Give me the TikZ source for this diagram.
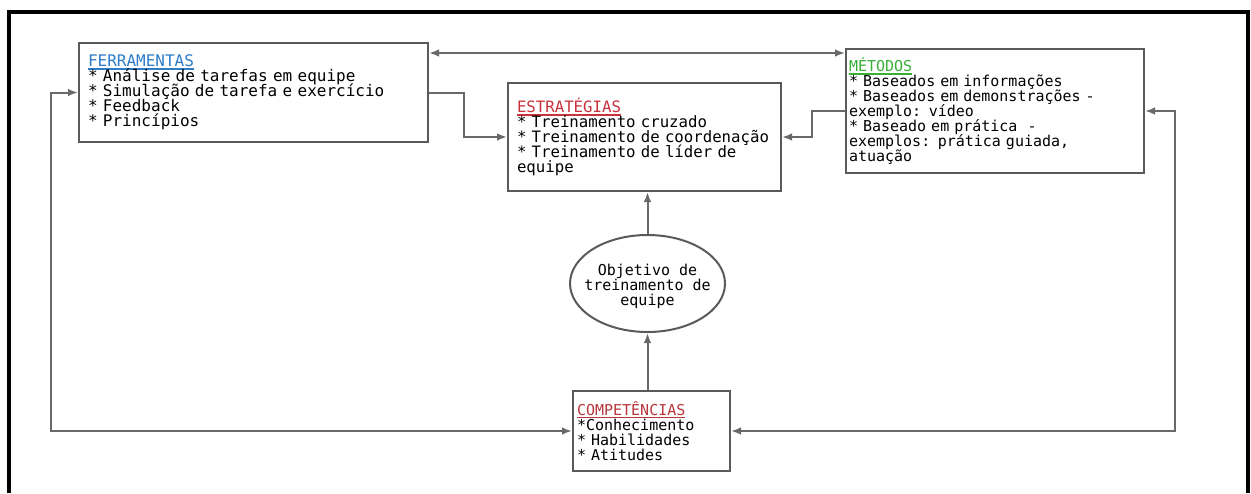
\documentclass[tikz,border=0pt]{standalone}
\usepackage{fontspec}
\setmonofont{DejaVu Sans Mono}
\usepackage{xcolor}
\usetikzlibrary{arrows.meta,positioning,shapes.geometric}
\definecolor{ferrblue}{RGB}{45,125,200}
\definecolor{estrred}{RGB}{200,50,60}
\definecolor{methgreen}{RGB}{55,175,55}
\definecolor{compred}{RGB}{185,55,60}
\definecolor{boxgray}{RGB}{90,90,90}
\definecolor{linegray}{RGB}{105,105,105}
\newcommand{\boxtitle}[2]{\textcolor{#1}{\setbox0\hbox{#2}\rlap{\rule[-1.5pt]{\wd0}{0.7pt}}\box0}}
\newcommand{\boxfont}[1]{\ttfamily\fontsize{#1}{7.5pt}\selectfont
    \lineskiplimit=-20pt\lineskip=0pt}

\begin{document}
\begin{tikzpicture}[
    x=0.5pt, y=-0.5pt,
    block/.style={draw=boxgray, line width=1pt, fill=white, rectangle, anchor=north west, align=left, inner ysep=2pt, font=\boxfont{7.5pt}},
    goal/.style={draw=boxgray, line width=1pt, ellipse, minimum width=77.5pt, minimum height=48.5pt, inner sep=0pt},
    arrow/.style={-{Latex[length=5pt,width=3.8pt]}, draw=linegray, line width=1pt},
    darrow/.style={{Latex[length=5pt,width=3.8pt]}-{Latex[length=5pt,width=3.8pt]}, draw=linegray, line width=1pt}
]
\useasboundingbox (0,0) rectangle (1251,493);

% Frame
\draw[line width=2pt, black] (9,493) -- (9,12) -- (1248,12) -- (1248,493);

% Blocks
\node[block, font=\boxfont{8pt}, text width=165.5pt, inner xsep=4.5pt, minimum height=49.5pt] (ferr) at (78,42)
    {\boxtitle{ferrblue}{FERRAMENTAS}\\
     {*} Análise de tarefas em equipe\\
     {*} Simulação de tarefa e exercício\\
     {*} Feedback\\
     {*} Princípios};
\node[block, font=\boxfont{7.85pt}, text width=127.5pt, inner xsep=4.5pt, minimum height=54pt] (estr) at (507,82)
    {\boxtitle{estrred}{ESTRATÉGIAS}\\
     {*} Treinamento cruzado\\
     {*} Treinamento de coordenação\\
     {*} Treinamento de líder de\\
     equipe};
\node[block, text width=146pt, inner xsep=1.5pt, minimum height=62pt] (meth) at (845,48)
    {\boxtitle{methgreen}{MÉTODOS}\\
     {*} Baseados em informações\\
     {*} Baseados em demonstrações -\\
     exemplo: vídeo\\
     {*} Baseado em prática\ \ -\\
     exemplos: prática guiada,\\
     atuação};
\node[block, text width=74.5pt, inner xsep=2pt, minimum height=40pt] (comp) at (572,390)
    {\boxtitle{compred}{COMPETÊNCIAS}\\
     {*}Conhecimento\\
     {*} Habilidades\\
     {*} Atitudes};
\node[goal, label={[align=center, font=\boxfont{7.5pt}, yshift=-1.5pt]center:Objetivo de\\treinamento de\\equipe}] (goal) at (647.5,283.5) {};

% Connectors
\draw[darrow] ([yshift=-5.5pt]ferr.north east) coordinate (toplink) -- (toplink -| meth.west);
\draw[arrow] (ferr.east) -- ++(35,0) |- (estr.west);
\draw[arrow] (meth.west) -- ++(-33,0) |- (estr.east);
\draw[arrow] (goal.north) -- (goal.north |- estr.south);
\draw[arrow] (goal.south |- comp.north) -- (goal.south);
\draw[darrow] (comp.west) -- ++(-521,0) |- (ferr.west);
\draw[darrow] (comp.east) -- ++(444,0) |- (meth.east);

\end{tikzpicture}
\end{document}
